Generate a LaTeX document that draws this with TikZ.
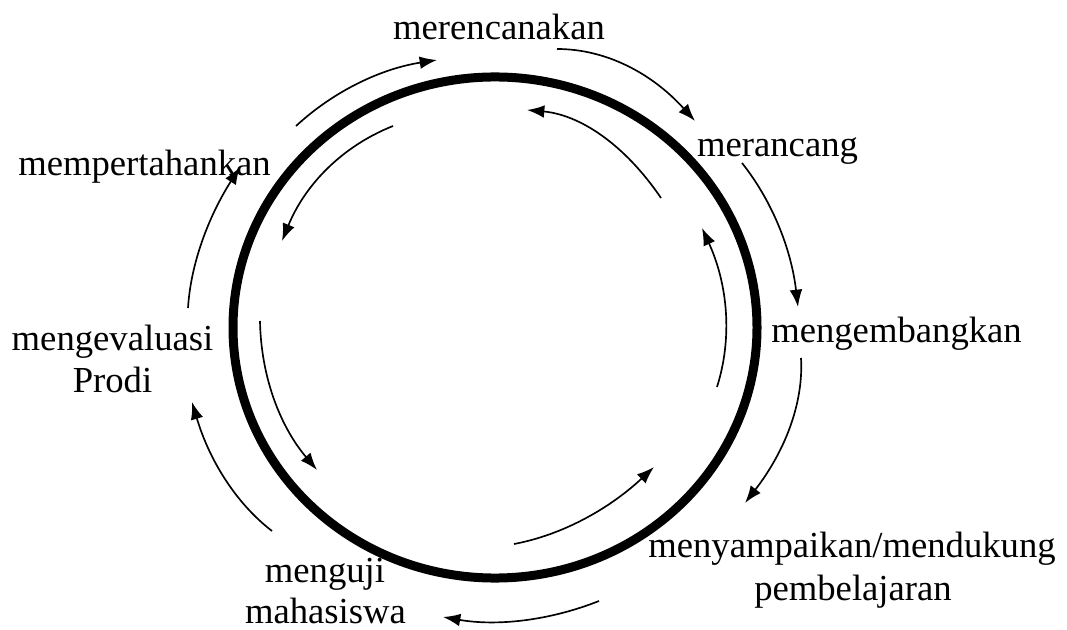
\documentclass[tikz,border=0pt]{standalone}
\usepackage{fontspec}
\setmainfont{Liberation Serif}
\usetikzlibrary{arrows.meta}
\begin{document}
\begin{tikzpicture}[x=0.75pt,y=-0.75pt,
  lbl/.style={font=\fontsize{27.5pt}{31.5pt}\selectfont, inner sep=0pt, anchor=base},
  flow/.style={line width=1.25pt, -{Latex[length=13pt,width=9.5pt]}},
  ring/.style={line width=6.75pt}]
\useasboundingbox (0,0) rectangle (1067,630);
% ring
\draw[ring] (495,327.5) ellipse [x radius=196.5pt, y radius=187.9pt];
% labels
\node[lbl] (plan) at (499,40) {merencanakan};
\node[lbl] (design) at (777.5,157) {merancang};
\node[lbl] (keep) at (144.5,176) {mempertahankan};
\node[lbl] (develop) at (896.5,343) {mengembangkan};
\node[lbl] (evalA) at (112.5,351) {mengevaluasi};
\node[lbl] (evalB) at (112.5,393) {Prodi};
\node[lbl] (testA) at (325,582) {menguji};
\node[lbl] (testB) at (325.5,623) {mahasiswa};
\node[lbl] (deliverA) at (852,557) {menyampaikan/mendukung};
\node[lbl] (deliverB) at (853,600) {pembelajaran};
% outer arrows (clockwise)
\coordinate (a1s) at (296,126); \coordinate (a1e) at (437,60);
\draw[flow] (a1s) .. controls (334.3,90.7) and (381.3,68.7) .. (a1e);
\coordinate (a2s) at (557,49); \coordinate (a2e) at (695,121);
\draw[flow] (a2s) .. controls (605.7,49) and (651.7,73) .. (a2e);
\coordinate (a3s) at (742,163); \coordinate (a3e) at (798,307);
\draw[flow] (a3s) .. controls (772.7,201.7) and (791.3,249.7) .. (a3e);
\coordinate (a4s) at (801,358); \coordinate (a4e) at (745,503);
\draw[flow] (a4s) .. controls (803.7,403) and (785,451.3) .. (a4e);
\coordinate (a5s) at (599,601); \coordinate (a5e) at (443,617);
\draw[flow] (a5s) .. controls (548.3,621) and (496.3,626.3) .. (a5e);
\coordinate (a6s) at (272,531); \coordinate (a6e) at (192,402);
\draw[flow] (a6s) .. controls (236,503.3) and (209.3,460.3) .. (a6e);
\coordinate (a7s) at (188,308); \coordinate (a7e) at (240,167);
\draw[flow] (a7s) .. controls (190.7,264.3) and (208,217.3) .. (a7e);
% inner arrows (counter-clockwise)
\coordinate (b1s) at (661,198); \coordinate (b1e) at (527,110);
\draw[flow] (b1s) .. controls (624.3,144) and (579.7,114.7) .. (b1e);
\coordinate (b2s) at (393,126); \coordinate (b2e) at (282,241);
\draw[flow] (b2s) .. controls (342,146.3) and (305,184.7) .. (b2e);
\coordinate (b3s) at (260,321); \coordinate (b3e) at (317,470);
\draw[flow] (b3s) .. controls (261,376.7) and (280,426.3) .. (b3e);
\coordinate (b4s) at (514,544); \coordinate (b4e) at (654,467);
\draw[flow] (b4s) .. controls (562,535) and (608.7,509.3) .. (b4e);
\coordinate (b5s) at (717,387); \coordinate (b5e) at (702,228);
\draw[flow] (b5s) .. controls (732.7,337.3) and (727.7,284.3) .. (b5e);
\end{tikzpicture}
\end{document}
